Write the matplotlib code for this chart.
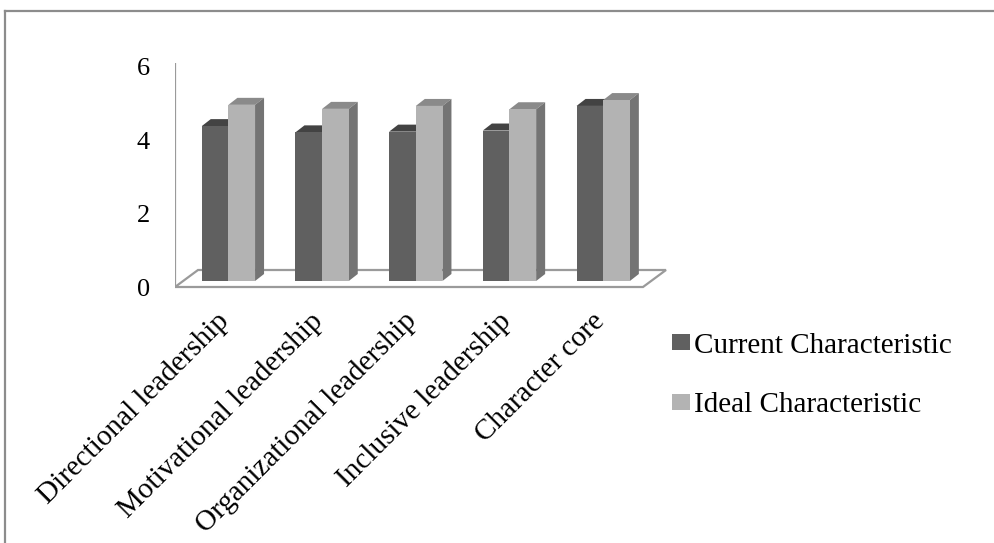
import matplotlib.pyplot as plt
import numpy as np
from matplotlib.patches import Polygon
from matplotlib.lines import Line2D

# data
categories = ["Directional leadership", "Motivational leadership",
              "Organizational leadership", "Inclusive leadership", "Character core"]
current = [4.22, 4.05, 4.07, 4.10, 4.77]
ideal = [4.80, 4.69, 4.77, 4.68, 4.93]
series_names = ["Current Characteristic", "Ideal Characteristic"]
yticks = [0, 2, 4, 6]

plt.rcParams['font.family'] = ['Liberation Serif', 'DejaVu Serif']

W, H = 995, 543
XU, YU = 93.7, 36.7      # pixels per category / per value unit
X0, Y0 = 228.4, 281      # pixel of category 0 centre / bar base

fig = plt.figure(figsize=(W / 100, H / 100), dpi=100)
ax = fig.add_axes([175 / W, 1 - 300 / H, 525 / W, 260 / H])
ax.set_xlim((175 - X0) / XU, (700 - X0) / XU)
ax.set_ylim((Y0 - 300) / YU, (Y0 - 40) / YU)
for s in ax.spines.values():
    s.set_visible(False)

# oblique depth offsets (data units)
bdx, bdy = 9 / XU, 7 / YU          # bar depth
fdx, fdy = 23 / XU, 17 / YU        # floor depth
front = (Y0 - 287) / YU            # front edge of floor
fl, fr = (175 - X0) / XU, (643 - X0) / XU

floor = Polygon([(fl, front), (fr, front), (fr + fdx, front + fdy), (fl + fdx, front + fdy)],
                closed=True, facecolor='white', edgecolor='#9a9a9a', lw=1.6, zorder=1)
ax.add_patch(floor)
ax.plot([fl, fl], [front, front + 6.1], color='#9a9a9a', lw=1.6, zorder=1, solid_capstyle='butt')

x = np.arange(len(categories))
w = 53.3 / XU / 2
styles = [('#606060', '#434343', '#4e4e4e'), ('#b3b3b3', '#8a8a8a', '#747474')]
bars = []
for k, (vals, (cf, ct, cs)) in enumerate(zip([current, ideal], styles)):
    xc = x + (k - 0.5) * w
    b = ax.bar(xc, vals, width=w, color=cf, lw=0, zorder=3 + 2 * k, label=series_names[k])
    bars.append(b)
    for xi, h in zip(xc, vals):
        x1, x2 = xi - w / 2, xi + w / 2
        ax.add_patch(Polygon([(x1, h), (x2, h), (x2 + bdx, h + bdy), (x1 + bdx, h + bdy)],
                             facecolor=ct, lw=0, zorder=2 + 2 * k))
        ax.add_patch(Polygon([(x2, 0), (x2, h), (x2 + bdx, h + bdy), (x2 + bdx, bdy)],
                             facecolor=cs, lw=0, zorder=2 + 2 * k))

ax.set_yticks(np.array(yticks) + front)
ax.set_yticklabels([str(t) for t in yticks], fontsize=19)
ax.tick_params(axis='y', length=0, pad=18)
ax.set_xticks([])

# category labels, rotated, ending under each group
for xi, cat in zip(x, categories):
    ax.annotate(cat, xy=(xi, front), xytext=(-12, -21), textcoords='offset pixels',
                fontsize=21, rotation=45, ha='right', va='top',
                rotation_mode='anchor', annotation_clip=False)

fig.legend(handles=bars, labels=series_names, loc='center left',
           bbox_to_anchor=(672 / W, 1 - 375.5 / H), frameon=False, fontsize=21,
           handlelength=0.62, handleheight=0.48, handletextpad=0.12,
           labelspacing=1.15, borderpad=0, borderaxespad=0)

# outer frame (left and top only visible)
fig.add_artist(Line2D([5 / W, 5 / W], [0, 1 - 11 / H], color='#8c8c8c', lw=1.6))
fig.add_artist(Line2D([5 / W, 1], [1 - 11 / H, 1 - 11 / H], color='#8c8c8c', lw=1.6))

fig.savefig('out.png', dpi=100)
